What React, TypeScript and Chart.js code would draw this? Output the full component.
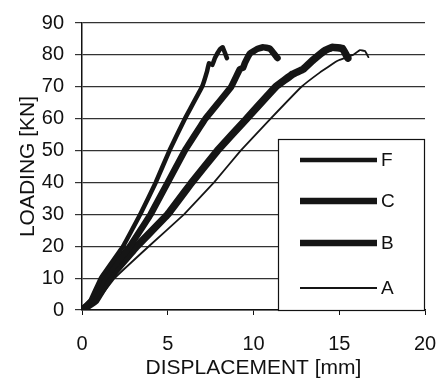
import React, { useEffect, useRef } from "react";
import { Chart, registerables } from "chart.js";

Chart.register(...registerables);

// ---- data ----
const seriesNames = ["F", "C", "B", "A"];

const fX = [0, 0.5, 1.1, 2.4, 3.4, 4.3, 5.1, 6.0, 7.0, 7.3, 7.4, 7.6, 7.75, 8.05, 8.2, 8.45];
const fY = [0, 3, 10, 20, 30, 40, 50, 60, 70, 75, 77.4, 76.8, 79, 81.8, 82.4, 79];

const cX = [0, 0.6, 1.3, 2.8, 4.0, 5.0, 6.0, 7.2, 8.7, 9.2, 9.4, 9.5, 9.8, 10.2, 10.55, 10.95, 11.4];
const cY = [0, 3, 10, 20, 30, 40, 50, 60, 70, 75.5, 76, 77.5, 80.5, 81.8, 82.4, 82, 79];

const bX = [0, 0.8, 1.6, 3.2, 5.0, 6.4, 7.9, 9.6, 11.3, 12.3, 12.9, 13.5, 14.2, 14.6, 15.2, 15.5];
const bY = [0, 3, 10, 20, 30, 40, 50, 60, 70, 74, 75.5, 78.5, 81.5, 82.4, 82, 79];

const aX = [0, 0.9, 1.9, 3.9, 5.95, 7.7, 9.25, 11.0, 12.8, 13.9, 14.75, 15.0, 15.8, 16.2, 16.5, 16.7];
const aY = [0, 3, 10, 20, 30, 40, 50, 60, 70, 74.6, 77.7, 78.4, 80, 81.5, 81.2, 79.3];

const xTicks = [0, 5, 10, 15, 20];
const yTicks = [0, 10, 20, 30, 40, 50, 60, 70, 80, 90];

const xTitle = "DISPLACEMENT [mm]";
const yTitle = "LOADING [KN]";

const seriesX = [fX, cX, bX, aX];
const seriesY = [fY, cY, bY, aY];
const seriesWidth = [4.5, 6.5, 7.5, 1.8];

const FONT = "'Liberation Sans', Arial, sans-serif";

const boxLegend = {
  id: "boxLegend",
  afterDatasetsDraw(chart: any) {
    const { ctx, chartArea: a } = chart;
    const w = a.right - a.left;
    const h = a.bottom - a.top;
    const bx = Math.round(a.left + w * 0.571);
    const by = Math.round(a.top + h * 0.404);
    const bw = Math.round(a.right - 1 - bx);
    const bh = Math.round(a.bottom - by);
    ctx.save();
    ctx.fillStyle = "#fff";
    ctx.fillRect(bx, by, bw, bh);
    ctx.strokeStyle = "#111";
    ctx.lineWidth = 1.2;
    ctx.strokeRect(bx + 0.5, by + 0.5, bw, bh);
    const fr = [0.123, 0.363, 0.608, 0.871];
    chart.data.datasets.forEach((ds: any, i: number) => {
      const y = Math.round(by + bh * fr[i]);
      ctx.strokeStyle = ds.borderColor;
      ctx.lineWidth = Math.min(ds.borderWidth, 6.5);
      ctx.lineCap = "butt";
      ctx.beginPath();
      ctx.moveTo(bx + 22, y);
      ctx.lineTo(bx + 99, y);
      ctx.stroke();
      ctx.fillStyle = "#111";
      ctx.font = `19px ${FONT}`;
      ctx.textBaseline = "middle";
      ctx.textAlign = "left";
      ctx.fillText(ds.label, bx + 103, y + 1);
    });
    ctx.restore();
  },
};

export default function App() {
  const ref = useRef<HTMLCanvasElement | null>(null);

  useEffect(() => {
    document.body.style.margin = "0";
    const canvas = ref.current;
    if (!canvas) return;
    const datasets = seriesNames.map((name, i) => ({
      label: name,
      data: seriesX[i].map((x, j) => ({ x, y: seriesY[i][j] })),
      borderColor: "#151515",
      backgroundColor: "#151515",
      borderWidth: seriesWidth[i],
      pointRadius: 0,
      tension: 0.05,
      borderJoinStyle: "round",
      borderCapStyle: "round",
      fill: false,
    }));
    const chart = new Chart(canvas, {
      type: "line",
      data: { datasets } as any,
      plugins: [boxLegend],
      options: {
        responsive: false,
        animation: false,
        layout: { padding: { top: 23, right: 0, left: 0, bottom: 0 } },
        plugins: { legend: { display: false }, tooltip: { enabled: false } },
        scales: {
          x: {
            type: "linear",
            min: 0,
            max: 20,
            afterBuildTicks: (s: any) => {
              s.ticks = xTicks.map((v) => ({ value: v }));
            },
            afterFit: (s: any) => {
              s.height = 73;
              s.paddingRight = 12;
              s.paddingLeft = 0;
            },
            ticks: { color: "#111", font: { family: FONT, size: 20 }, padding: 17, maxRotation: 0 },
            grid: { drawOnChartArea: false, drawTicks: true, tickLength: 5, color: "#111" },
            border: { display: true, color: "#111", width: 1.5 },
            title: {
              display: true,
              text: xTitle,
              color: "#111",
              font: { family: FONT, size: 21 },
              padding: { top: 0, bottom: 2 },
            },
          },
          y: {
            type: "linear",
            min: 0,
            max: 90,
            afterBuildTicks: (s: any) => {
              s.ticks = yTicks.map((v) => ({ value: v }));
            },
            afterFit: (s: any) => {
              s.width = 82;
            },
            ticks: { color: "#111", font: { family: FONT, size: 20 }, padding: 11 },
            grid: { color: "#333", lineWidth: 1.2, drawTicks: true, tickLength: 7 },
            border: { display: true, color: "#111", width: 1.5 },
            title: {
              display: true,
              text: yTitle,
              color: "#111",
              font: { family: FONT, size: 21 },
              padding: { top: 16, bottom: 0 },
            },
          },
        },
      } as any,
    });
    return () => chart.destroy();
  }, []);

  return (
    <div style={{ position: "absolute", left: 0, top: 0, width: 437, height: 383, background: "#fff" }}>
      <canvas ref={ref} width={437} height={383} style={{ display: "block", width: 437, height: 383 }} />
    </div>
  );
}
